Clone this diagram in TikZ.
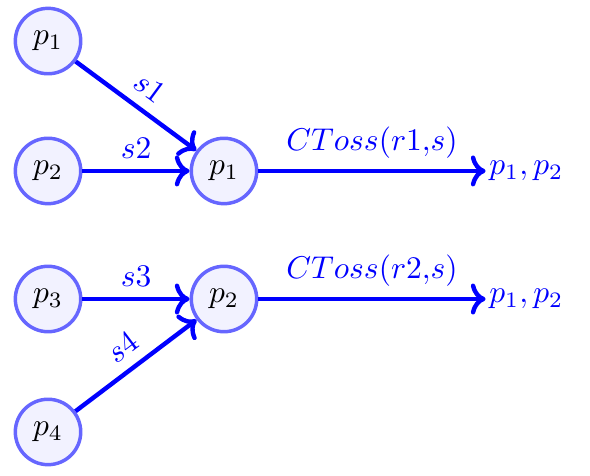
\documentclass[tikz,border=0pt]{standalone}
\usepackage{amsmath,amssymb}
\usepackage{xcolor}
\usepackage{tikz}
\usetikzlibrary{arrows.meta, positioning, calc}
\tikzset{
  proc/.style   = {circle, draw=blue!60, fill=blue!5, line width=1.1pt,
                   minimum size=7.3mm, inner sep=0pt},
  outp/.style   = {anchor=west, text=blue, inner sep=1pt},
  msg/.style    = {line width=1.4pt, ->, draw=blue},
  msglbl/.style = {text=blue, above},
}

\begin{document}
\begin{tikzpicture}

    \useasboundingbox (0,0) rectangle (6.585,-5.312);

    %% Senders (left column)
    \foreach \n/\y/\pname in {
      a1/-0.458/{p_1},
      a2/-1.908/{p_2},
      a3/-3.337/{p_3},
      a4/-4.821/{p_4}}
    {
      \node[proc] (\n) at (0.536, \y) {$\pname$};
    }

    %% Receivers
    \node[proc] (m1) at (2.5, -1.908) {$p_1$};
    \node[proc] (m2) at (2.5, -3.337) {$p_2$};

    %% Outputs
    \node[outp] (o1) at (5.42, -1.908) {$p_1,p_2$};
    \node[outp] (o2) at (5.42, -3.337) {$p_1,p_2$};

    %% Messages
    \draw[msg] (a1) -- node[msglbl, sloped]{$s1$} (m1);
    \draw[msg] (a2) -- node[msglbl]{$s2$} (m1);
    \draw[msg] (a3) -- node[msglbl]{$s3$} (m2);
    \draw[msg] (a4) -- node[msglbl, sloped]{$s4$} (m2);

    \draw[msg] (m1) -- node[msglbl]{$CToss(r1{,}s)$} (o1);
    \draw[msg] (m2) -- node[msglbl]{$CToss(r2{,}s)$} (o2);

\end{tikzpicture}
\end{document}
